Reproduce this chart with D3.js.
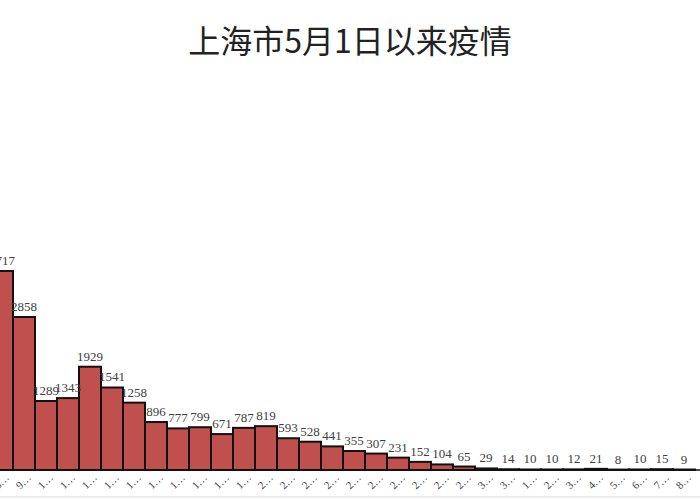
<!DOCTYPE html><html><head><meta charset="utf-8">
<script src="https://cdn.jsdelivr.net/npm/d3@7"></script>
<style>body{margin:0;background:#fff}</style></head><body>
<svg id="c" width="700" height="500"></svg>
<script>
const categories=["8日","9日","10日","11日","12日","13日","14日","15日","16日","17日","18日","19日","20日","21日","22日","23日","24日","25日","26日","27日","28日","29日","30日","31日","1日","2日","3日","4日","5日","6日","7日","8日"];
const keys=categories.map((c,i)=>i);
const values=[3717,2858,1289,1343,1929,1541,1258,896,777,799,671,787,819,593,528,441,355,307,231,152,104,65,29,14,10,10,12,21,8,10,15,9];
const title="上海市5月1日以来疫情";
const svg=d3.select("#c");
const x=d3.scaleBand().domain(keys).range([-9,695]).padding(0);
const y=d3.scaleLinear().domain([0,3717]).range([470,271]);
svg.append("text").attr("x",350).attr("y",53).attr("text-anchor","middle")
 .attr("font-family","Noto Sans CJK SC").attr("font-size",32).attr("fill","#222").text(title);
svg.append("line").attr("x1",0).attr("x2",700).attr("y1",497).attr("y2",497).attr("stroke","#ddd");
svg.selectAll("rect.b").data(values).join("rect").attr("class","b")
 .attr("x",(d,i)=>x(i)).attr("width",x.bandwidth()).attr("y",d=>y(d)).attr("height",d=>y(0)-y(d))
 .attr("fill","#c0504d").attr("stroke","#111").attr("stroke-width",2);
svg.append("line").attr("x1",0).attr("x2",700).attr("y1",y(0)).attr("y2",y(0)).attr("stroke","#111").attr("stroke-width",1.5);
svg.selectAll("text.v").data(values).join("text").attr("class","v")
 .attr("x",(d,i)=>x(i)+x.bandwidth()/2).attr("y",d=>y(d)-6).attr("text-anchor","middle")
 .attr("font-family","Liberation Serif").attr("font-size",13).attr("fill","#404040").text(d=>d);
svg.selectAll("text.l").data(categories).join("text").attr("class","l")
 .attr("transform",(d,i)=>`translate(${x(i)+x.bandwidth()/2+2},484) rotate(-45)`).attr("text-anchor","middle")
 .attr("font-family","Liberation Serif").attr("font-size",11).attr("fill","#404040").text(d=>d[0]+"…");
</script></body></html>
